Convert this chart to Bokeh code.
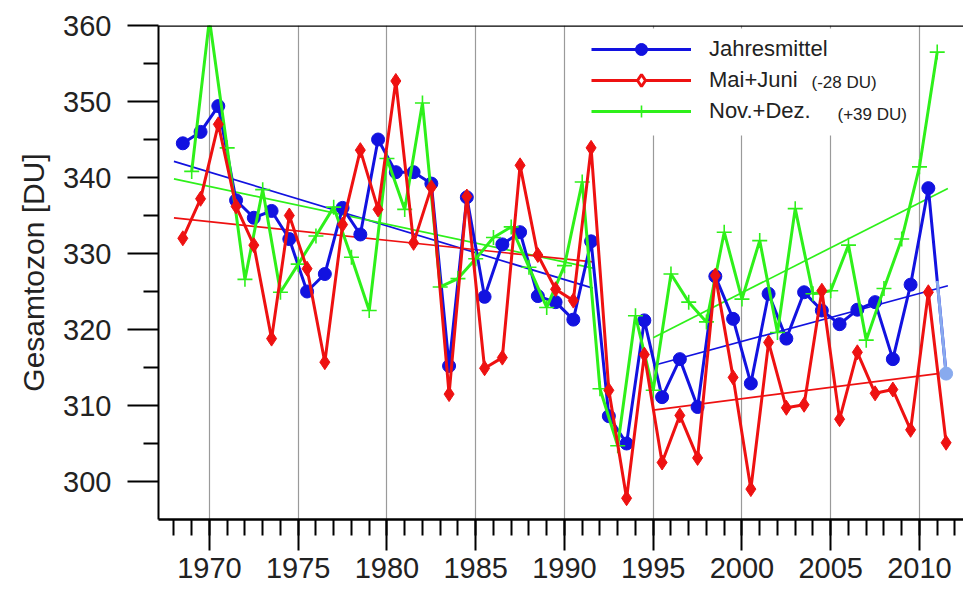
import numpy as np
from bokeh.plotting import figure
from bokeh.models import FixedTicker, Span, Legend, LegendItem, Label, BoxAnnotation
from bokeh.embed import file_html
from bokeh.resources import INLINE

# ---------------- data ----------------
years = list(range(1968, 2012))            # plotted at mid-year
jahresmittel = [344.5, 346.0, 349.4, 337.0, 334.7, 335.6, 331.9, 325.0, 327.3, 336.0,
                332.5, 345.0, 340.7, 340.7, 339.2, 315.2, 337.4, 324.3, 331.2, 332.8,
                324.4, 323.6, 321.3, 331.6, 308.6, 305.0, 321.2, 311.1, 316.1, 309.8,
                327.0, 321.4, 312.9, 324.7, 318.8, 324.9, 322.5, 320.7, 322.6, 323.6,
                316.1, 325.9, 338.6, 314.2]
mai_juni = [332.0, 337.2, 347.0, 336.2, 331.1, 318.8, 335.0, 328.0, 315.7, 333.8,
            343.6, 335.8, 352.7, 331.4, 338.7, 311.5, 337.5, 314.9, 316.3, 341.6,
            329.8, 325.3, 323.8, 343.9, 312.0, 297.8, 316.7, 302.5, 308.7, 303.1,
            327.1, 313.7, 299.0, 318.3, 309.7, 310.1, 325.1, 308.2, 317.0, 311.6,
            312.1, 306.8, 324.9, 305.1]
nd_years = list(range(1968, 2011))         # Nov.+Dez. of year, plotted at year end
nov_dez = [340.8, 360.8, 343.9, 326.6, 338.4, 324.9, 328.6, 332.3, 336.1, 329.5,
           322.5, 342.5, 335.8, 349.8, 325.6, 326.7, 329.3, 332.1, 333.5, 328.2,
           322.9, 328.4, 339.4, 312.2, 304.7, 321.8, 312.0, 327.3, 323.6, 321.0,
           332.8, 324.0, 331.7, 319.6, 335.9, 324.7, 325.1, 331.1, 318.6, 325.4,
           331.9, 341.4, 356.5]
trend_periods = [(1968, 1991), (1995, 2011)]
labels = ["Jahresmittel", "Mai+Juni", "Nov.+Dez."]
label_suffix = ["", "(-28 DU)", "(+39 DU)"]
x_major = list(range(1970, 2011, 5))
x_minor = list(range(1968, 2013))
y_major = list(range(300, 361, 10))
y_minor = list(range(305, 360, 10))

# ---------------- styling ----------------
BLUE, RED, GREEN, LIGHTBLUE = "#1212e0", "#ee1111", "#2ef01a", "#88aaee"
FONT = "Liberation Sans"
TXT = "#222222"

xb = np.array(years) + 0.5
xg = np.array(nd_years) + 1.0
yb = np.array(jahresmittel)
yr = np.array(mai_juni)
yg = np.array(nov_dez)

p = figure(width=963, height=594, x_range=(1967.13, 2012.48), y_range=(295, 360),
           output_backend="svg", toolbar_location=None,
           min_border_left=158, min_border_right=0, min_border_top=25, min_border_bottom=75)
p.outline_line_color = None
p.background_fill_color = "white"
p.border_fill_color = "white"

# axes
p.xaxis.ticker = FixedTicker(ticks=x_major, minor_ticks=x_minor)
p.xgrid.ticker = FixedTicker(ticks=x_major)
p.xgrid.grid_line_color = "#9a9a9a"
p.xgrid.grid_line_width = 1.2
p.ygrid.visible = False
p.yaxis.ticker = FixedTicker(ticks=y_major, minor_ticks=y_minor)

for ax in (p.xaxis[0], p.yaxis[0]):
    ax.major_tick_in = 0
    ax.minor_tick_in = 0
    ax.major_tick_out = 31
    ax.major_tick_line_width = 2
    ax.minor_tick_line_width = 2
    ax.major_tick_line_color = "black"
    ax.minor_tick_line_color = "black"
    ax.axis_line_color = "black"
    ax.major_label_text_font = FONT
    ax.major_label_text_font_size = "29px"
    ax.major_label_text_color = TXT
p.xaxis.minor_tick_out = 16
p.yaxis.minor_tick_out = 15
p.xaxis.axis_line_width = 2.5
p.yaxis.axis_line_width = 2
p.xaxis.major_label_standoff = 7
p.yaxis.major_label_standoff = 16
p.yaxis.axis_label = "Gesamtozon [DU]"
p.yaxis.axis_label_text_font = FONT
p.yaxis.axis_label_text_font_size = "30px"
p.yaxis.axis_label_text_font_style = "normal"
p.yaxis.axis_label_text_color = TXT
p.yaxis.axis_label_standoff = 10

p.add_layout(Span(location=360, dimension="width", line_color="black", line_width=2.5))

# white box behind the legend (covers the grid lines, below the data)
p.add_layout(BoxAnnotation(left=425, right=752, bottom=384, top=491,
                           left_units="screen", right_units="screen",
                           bottom_units="screen", top_units="screen",
                           fill_color="white", fill_alpha=1.0, line_color=None,
                           level="underlay"))

# trend lines (least squares on each period)
def trend(x, y, color):
    for a, b in trend_periods:
        m = (x >= a) & (x < b + 1)
        k, c = np.polyfit(x[m], y[m], 1)
        xs = np.array([a, b + 0.6])
        p.line(xs, k * xs + c, line_color=color, line_width=1.7)

trend(xb, yb, BLUE)
trend(xg, yg, GREEN)
trend(xb, yr, RED)

# series
lb = p.line(xb, yb, line_color=BLUE, line_width=3)
# last (provisional) value in light blue
xm = (xb[-2] + xb[-1]) / 2
ym = (yb[-2] + yb[-1]) / 2
p.line([xm, xb[-1]], [ym, yb[-1]], line_color=LIGHTBLUE, line_width=3)
p.scatter(xb[:-1], yb[:-1], marker="circle", size=13, fill_color=BLUE, line_color=BLUE)
p.scatter(xb[-1:], yb[-1:], marker="circle", size=13, fill_color=LIGHTBLUE, line_color=LIGHTBLUE)

lg = p.line(xg, yg, line_color=GREEN, line_width=3)
sg = p.scatter(xg, yg, marker="cross", size=15, line_color=GREEN, line_width=1.6)

lr = p.line(xb, yr, line_color=RED, line_width=3)
p.scatter(xb, yr, marker="diamond", size=15, fill_color=RED, line_color=RED)

# legend-only marker renderers (a single missing value, so nothing is drawn in the plot)
nan = np.array([np.nan])
kb = p.scatter(nan, nan, marker="circle", size=19, fill_color=BLUE, line_color=BLUE)
kr = p.scatter(nan, nan, marker="diamond", size=19, fill_color="white", line_color=RED, line_width=3)

legend = Legend(items=[LegendItem(label=labels[0], renderers=[lb, kb]),
                       LegendItem(label=labels[1], renderers=[lr, kr]),
                       LegendItem(label=labels[2], renderers=[lg, sg])],
                location=(433, 393), glyph_width=100, glyph_height=30,
                label_standoff=18, spacing=1, padding=10, margin=0,
                border_line_color=None, background_fill_alpha=0.0,
                label_text_font=FONT, label_text_font_size="22px",
                label_text_color=TXT)
p.add_layout(legend)

p.add_layout(Label(x=653, y=437, x_units="screen", y_units="screen", text=label_suffix[1],
                   text_font=FONT, text_font_size="17px", text_color=TXT,
                   text_baseline="middle"))
p.add_layout(Label(x=679, y=405, x_units="screen", y_units="screen", text=label_suffix[2],
                   text_font=FONT, text_font_size="17px", text_color=TXT,
                   text_baseline="middle"))

open("out.html", "w").write(file_html(p, INLINE))
